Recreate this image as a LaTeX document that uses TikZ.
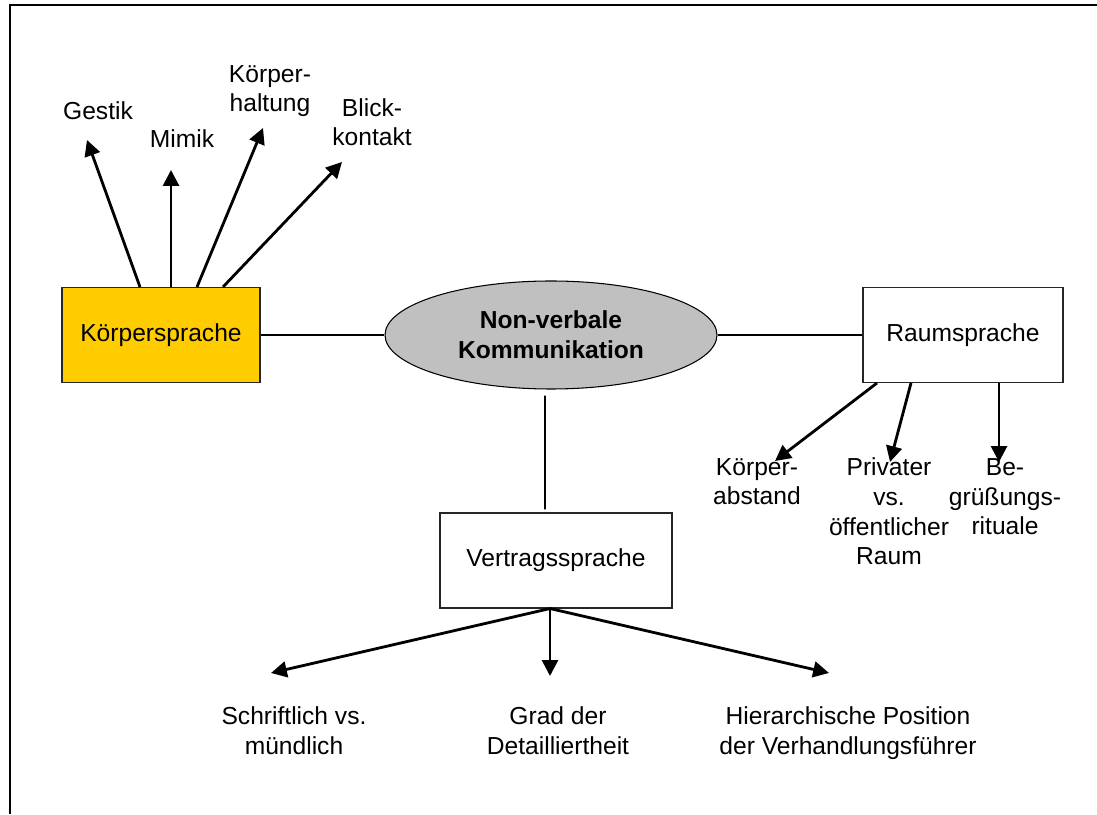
\documentclass[tikz,border=0pt]{standalone}
\usepackage{fontspec}
\setmainfont{Liberation Sans}
\usetikzlibrary{shapes.geometric,arrows.meta}
\definecolor{gold}{HTML}{FFCC00}
\definecolor{ovalgrey}{HTML}{C0C0C0}
\begin{document}
\begin{tikzpicture} [scale=1.00]
  % looks used again and again
  \tikzstyle{every node}=[font=\fontsize{14}{17}\selectfont]
  \tikzstyle{box}=[rectangle,draw=black!85,line width=0.6pt,minimum width=3.96cm,minimum height=1.90cm]
  % label base = baseline of its last line
  \tikzstyle{lbl}=[align=center,anchor=base,inner sep=0pt]
  \tikzstyle{link}=[line width=1.1pt]
  \tikzstyle{pointer}=[line width=1.6pt,-{Triangle[length=9pt,width=9pt]}]

  \useasboundingbox (0,0) rectangle (21.94,16.28);
  % frame (open to the right and bottom)
  \draw[line width=0.8pt] (0.20,0) -- (0.20,16.18) -- (21.94,16.18);

  % Draw the main nodes
  \node [ellipse,draw,line width=0.6pt,fill=ovalgrey,minimum width=6.64cm,minimum height=2.16cm,align=center,font=\fontsize{14}{17}\selectfont\bfseries] (NVK) at (11.02, 9.58) {Non-verbale\\Kommunikation};
  \node [box,fill=gold] (KS) at ( 3.22, 9.58) {Körpersprache};
  \node [box,minimum width=4.00cm] (RS) at (19.26, 9.58) {Raumsprache};
  \node [box,minimum width=4.64cm] (VS) at (11.12, 5.07) {Vertragssprache};

  % lines from the centre
  \draw[link] (KS.east) -- (NVK.west);
  \draw[link] (NVK.east) -- (RS.west);
  \draw[link] ([xshift=-0.12cm,yshift=-0.12cm]NVK.south) -- ([xshift=-0.22cm,yshift=0.06cm]VS.north);

  % Koerpersprache
  \node [lbl] (GE) at ( 1.96, 13.88) {Gestik};
  \node [lbl] (MI) at ( 3.64, 13.32) {Mimik};
  \node [lbl] (KH) at ( 5.40, 14.04) {Körper-\\haltung};
  \node [lbl] (BK) at ( 7.44, 13.36) {Blick-\\kontakt};
  \coordinate (GEtip) at (1.74, 13.48);
  \coordinate (MItip) at (3.42, 12.88);
  \coordinate (KHtip) at (5.26, 13.72);
  \coordinate (BKtip) at (6.84, 13.04);
  \draw[pointer] ([xshift=-0.42cm]KS.north) -- (GEtip);
  \draw[pointer] ([xshift= 0.20cm]KS.north) -- (MItip);
  \draw[pointer] ([xshift= 0.72cm]KS.north) -- (KHtip);
  \draw[pointer] ([xshift= 1.24cm]KS.north) -- (BKtip);

  % Raumsprache
  \node [lbl] (KA) at (15.14, 6.18) {Körper-\\abstand};
  \node [lbl] (PR) at (17.78, 4.98) {Privater\\vs.\\öffentlicher\\Raum};
  \node [lbl] (BG) at (20.10, 5.58) {Be-\\grüßungs-\\rituale};
  \coordinate (KAtip) at (15.50, 7.06);
  \coordinate (PRtip) at (17.80, 7.04);
  \coordinate (BGtip) at (19.98, 7.04);
  \draw[pointer] ([xshift=-1.72cm]RS.south) -- (KAtip);
  \draw[pointer] ([xshift=-1.04cm]RS.south) -- (PRtip);
  \draw[pointer] ([xshift= 0.72cm]RS.south) -- (BGtip);

  % Vertragssprache
  \node [lbl] (SM) at ( 5.88, 1.20) {Schriftlich vs.\\mündlich};
  \node [lbl] (GD) at (11.16, 1.20) {Grad der\\Detailliertheit};
  \node [lbl] (HP) at (16.96, 1.20) {Hierarchische Position\\der Verhandlungsführer};
  \coordinate (SMtip) at ( 5.42, 2.82);
  \coordinate (GDtip) at (11.00, 2.76);
  \coordinate (HPtip) at (16.58, 2.82);
  \draw[pointer] ([xshift=-0.12cm]VS.south) -- (SMtip);
  \draw[pointer] ([xshift=-0.12cm]VS.south) -- (GDtip);
  \draw[pointer] ([xshift=-0.12cm]VS.south) -- (HPtip);

\end{tikzpicture}
\end{document}
